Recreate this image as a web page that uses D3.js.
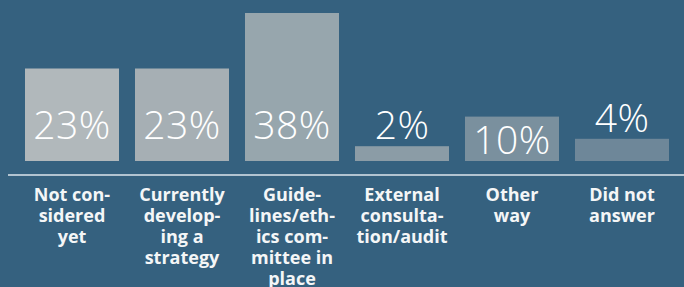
<!DOCTYPE html>
<html>
<head>
<meta charset="utf-8">
<script src="https://cdn.jsdelivr.net/npm/d3@7/dist/d3.min.js"></script>
<style>
  html, body { margin: 0; padding: 0; background: #35617f; }
  svg { display: block; }
</style>
</head>
<body>
<div id="chart"></div>
<script>
'use strict';

// categories (each label already split into its lines, as in the original)
var categories = ['not', 'developing', 'guidelines', 'external', 'other', 'noanswer'];
var labelLines = [
    ['Not con-', 'sidered', 'yet'],
    ['Currently', 'develop-', 'ing a', 'strategy'],
    ['Guide-', 'lines/eth-', 'ics com-', 'mittee in', 'place'],
    ['External', 'consulta-', 'tion/audit'],
    ['Other', 'way'],
    ['Did not', 'answer']
];
var values = [23, 23, 38, 2, 10, 4];
var barColors = ['#b1b8bb', '#a6afb4', '#97a6ad', '#8b9ca6', '#7a909e', '#6e8799'];

var width = 684;
var height = 287;
var baseY = 161;

var svg = d3.select('#chart')
    .append('svg')
        .attr('width', width)
        .attr('height', height);

var x = d3.scaleBand()
    .domain(categories)
    .range([25, 669])
    .paddingInner(16 / 110)
    .paddingOuter(0);

// bars in the original keep a small stub even at low values
var y = d3.scaleLinear()
    .domain([-2, 38])
    .range([baseY, 13]);

var data = categories.map(function (c, i) {
    return { key: c, value: values[i], color: barColors[i], lines: labelLines[i] };
});

svg.selectAll('rect.bar')
    .data(data)
    .enter()
    .append('rect')
    .attr('class', 'bar')
    .attr('x', d => x(d.key))
    .attr('y', d => y(d.value))
    .attr('width', x.bandwidth())
    .attr('height', d => baseY - y(d.value))
    .style('fill', d => d.color);

// value labels: inside tall bars, above the short ones
function labelY(d) {
    var top = y(d.value);
    var h = baseY - top;
    if (h < 30) return top - 7;
    return Math.max(top + 37, baseY - 22);
}

svg.selectAll('text.value')
    .data(data)
    .enter()
    .append('text')
    .attr('class', 'value')
    .attr('x', d => x(d.key) + x.bandwidth() / 2)
    .attr('y', labelY)
    .attr('text-anchor', 'middle')
    .style('font-family', '"Open Sans", sans-serif')
    .style('font-weight', 300)
    .style('font-size', '39px')
    .style('letter-spacing', '0.5px')
    .style('fill', '#ffffff')
    .text(d => d.value + '%');

// axis line
svg.append('line')
    .attr('x1', 8)
    .attr('x2', width)
    .attr('y1', 175)
    .attr('y2', 175)
    .style('stroke', '#dce6ec')
    .style('stroke-width', 1.5);

// category labels
var cat = svg.selectAll('text.cat')
    .data(data)
    .enter()
    .append('text')
    .attr('class', 'cat')
    .attr('x', d => x(d.key) + x.bandwidth() / 2)
    .attr('y', 201)
    .attr('text-anchor', 'middle')
    .style('font-family', '"Open Sans", sans-serif')
    .style('font-weight', 700)
    .style('font-size', '18px')
    .style('fill', '#f4f6f7');

cat.selectAll('tspan')
    .data(d => d.lines)
    .enter()
    .append('tspan')
    .attr('x', function () { return d3.select(this.parentNode).attr('x'); })
    .attr('dy', (d, i) => i === 0 ? 0 : 21)
    .text(d => d);
</script>
</body>
</html>
